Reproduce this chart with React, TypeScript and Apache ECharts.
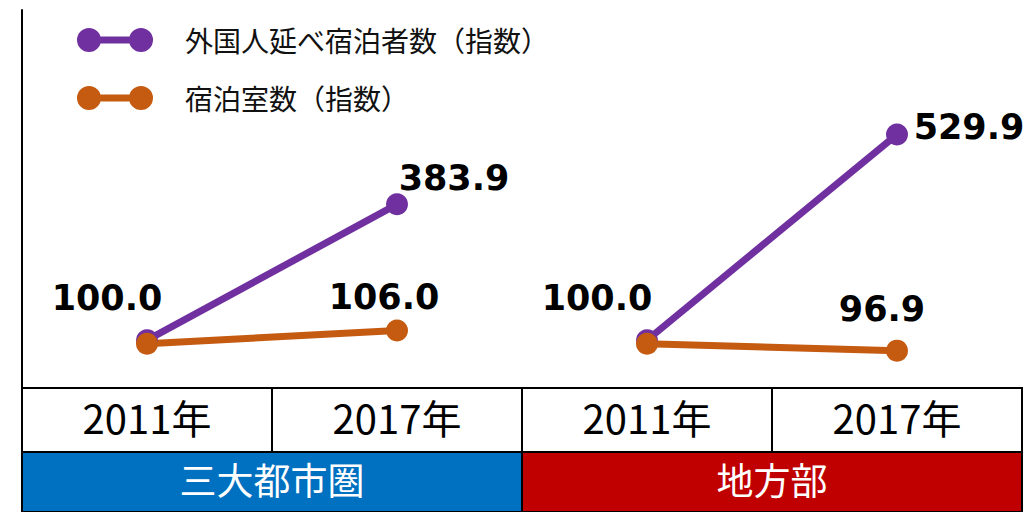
import React, { useEffect, useRef } from "react";
import * as echarts from "echarts";

// ---- data ----
const regions = ["三大都市圏", "地方部"];
const periods = ["2011年", "2017年"];
const guestName = "外国人延べ宿泊者数（指数）";
const roomName = "宿泊室数（指数）";
const guestsMetro = [100.0, 383.9];
const guestsRural = [100.0, 529.9];
const roomsMetro = [100.0, 106.0];
const roomsRural = [100.0, 96.9];

// ---- layout / style ----
const PURPLE = "#7030A0";
const ORANGE = "#C55A11";
const BLUE = "#0070C0";
const RED = "#C00000";
const GRID_LEFT = 22;
const GRID_TOP = 10;
const GRID_W = 1000;
const GRID_H = 378;
const ROW1_H = 64;
const ROW2_H = 60;
const CJK = '"Noto Sans CJK JP", "Noto Sans", sans-serif';

// label centre offsets relative to the marker (which value gets a label)
const labelOffsets = {
  guestsMetro: [[-40, -42], [57, -26]],
  guestsRural: [[-50, -42], [72, -7]],
  roomsMetro: [null, [-13, -34]],
  roomsRural: [null, [-15, -42]],
};

const categories = regions.flatMap((r) => periods.map((p) => `${r}${p}`));

function buildData(values: number[], groupIndex: number, offsets: (number[] | null)[]) {
  const out: any[] = categories.map(() => "-");
  values.forEach((v, i) => {
    const off = offsets[i];
    out[groupIndex * periods.length + i] = off
      ? {
          value: v,
          label: {
            show: true,
            position: "inside",
            offset: off,
            align: "center",
            verticalAlign: "middle",
            formatter: (p: any) => Number(p.value).toFixed(1),
            color: "#000",
            fontSize: 35,
            fontWeight: "bold",
            fontFamily: '"DejaVu Sans", Verdana, sans-serif',
          },
        }
      : v;
  });
  return out;
}

function lineSeries(name: string, color: string, yAxisIndex: number, data: any[]) {
  return {
    type: "line",
    name,
    yAxisIndex,
    data,
    connectNulls: false,
    symbol: "circle",
    symbolSize: 22,
    lineStyle: { color, width: 7 },
    itemStyle: { color },
    label: { show: false },
    emphasis: { disabled: true },
  };
}

const legendIcon =
  "path://M0,12A12,12,0,1,1,24,12A12,12,0,1,1,0,12ZM52,12A12,12,0,1,1,76,12A12,12,0,1,1,52,12ZM22,8.5L54,8.5L54,15.5L22,15.5Z";

function tableGraphics() {
  const els: any[] = [];
  const colW = GRID_W / categories.length;
  const y1 = GRID_TOP + GRID_H;
  categories.forEach((_, i) => {
    els.push({
      type: "rect",
      shape: { x: GRID_LEFT + colW * i, y: y1, width: colW, height: ROW1_H },
      style: { fill: "#fff", stroke: "#000", lineWidth: 2 },
    });
    els.push({
      type: "text",
      x: GRID_LEFT + colW * i + colW / 2,
      y: y1 + ROW1_H / 2 - 3,
      style: {
        text: periods[i % periods.length],
        fill: "#000",
        fontSize: 40,
        fontFamily: CJK,
        align: "center",
        verticalAlign: "middle",
        textAlign: "center",
        textVerticalAlign: "middle",
      },
    });
  });
  const y2 = y1 + ROW1_H;
  const regW = GRID_W / regions.length;
  const fills = [BLUE, RED];
  regions.forEach((r, i) => {
    els.push({
      type: "rect",
      shape: { x: GRID_LEFT + regW * i, y: y2, width: regW, height: ROW2_H },
      style: { fill: fills[i], stroke: "#000", lineWidth: 2 },
    });
    els.push({
      type: "text",
      x: GRID_LEFT + regW * i + regW / 2,
      y: y2 + ROW2_H / 2 - 3,
      style: {
        text: r,
        fill: "#fff",
        fontSize: 37,
        fontFamily: CJK,
        align: "center",
        verticalAlign: "middle",
        textAlign: "center",
        textVerticalAlign: "middle",
      },
    });
  });
  return els;
}

export default function App() {
  const ref = useRef<HTMLDivElement>(null);
  useEffect(() => {
    document.body.style.margin = "0";
    if (!ref.current) return;
    const chart = echarts.init(ref.current, null, { renderer: "svg" });
    chart.setOption({
      animation: false,
      backgroundColor: "#fff",
      grid: { left: GRID_LEFT, top: GRID_TOP, width: GRID_W, height: GRID_H, containLabel: false },
      legend: {
        data: [guestName, roomName],
        orient: "vertical",
        left: 77,
        top: 25,
        padding: 0,
        itemWidth: 76,
        itemHeight: 24,
        itemGap: 28,
        icon: legendIcon,
        selectedMode: false,
        textStyle: {
          fontSize: 28,
          fontFamily: CJK,
          color: "#111",
          lineHeight: 30,
          padding: [0, 0, 0, 27],
        },
      },
      xAxis: {
        type: "category",
        data: categories,
        boundaryGap: true,
        axisLine: { show: true, lineStyle: { color: "#000", width: 2 } },
        axisTick: { show: false },
        axisLabel: { show: false },
        splitLine: { show: false },
      },
      yAxis: [
        {
          type: "value",
          min: 0,
          max: 790,
          axisLine: { show: true, lineStyle: { color: "#000", width: 2 } },
          axisTick: { show: false },
          axisLabel: { show: false },
          splitLine: { show: false },
        },
        {
          type: "value",
          min: 80,
          max: 251,
          show: false,
          splitLine: { show: false },
        },
      ],
      series: [
        lineSeries(guestName, PURPLE, 0, buildData(guestsMetro, 0, labelOffsets.guestsMetro)),
        lineSeries(guestName, PURPLE, 0, buildData(guestsRural, 1, labelOffsets.guestsRural)),
        lineSeries(roomName, ORANGE, 1, buildData(roomsMetro, 0, labelOffsets.roomsMetro)),
        lineSeries(roomName, ORANGE, 1, buildData(roomsRural, 1, labelOffsets.roomsRural)),
      ],
      graphic: { elements: tableGraphics() },
    });
    return () => chart.dispose();
  }, []);
  return (
    <div
      ref={ref}
      style={{ position: "absolute", left: 0, top: 0, width: 1027, height: 512 }}
    />
  );
}
